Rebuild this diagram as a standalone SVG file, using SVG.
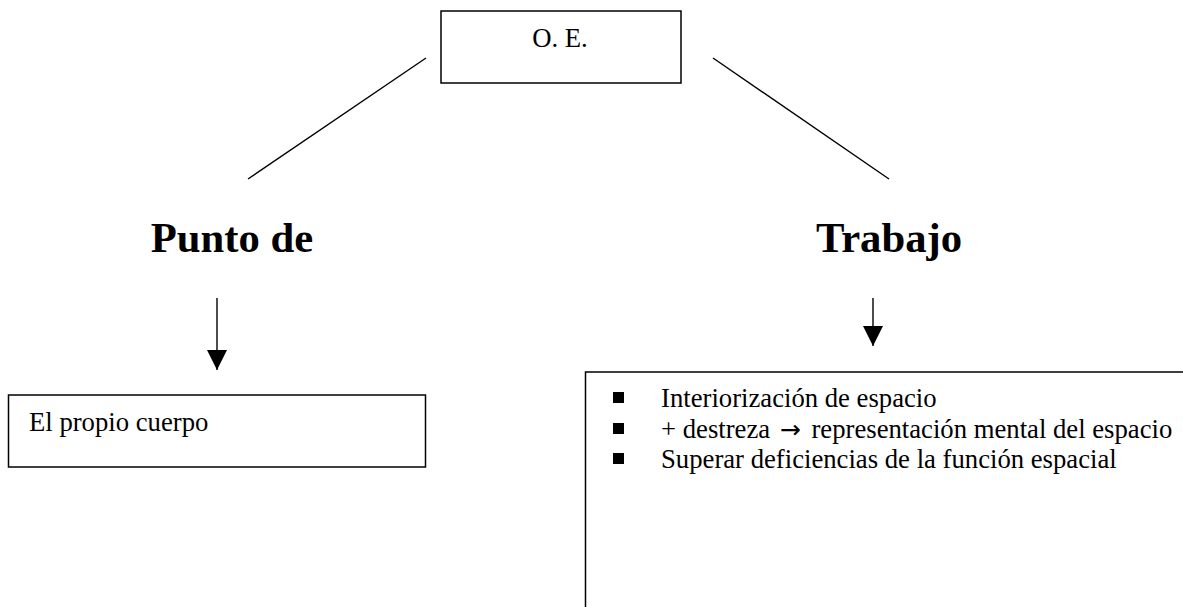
<svg xmlns="http://www.w3.org/2000/svg" width="1183" height="607" viewBox="0 0 1183 607">
<style>
.box{fill:#fff;stroke:#000;stroke-width:1.5}
.ln{stroke:#000;stroke-width:1.4;fill:none}
.t{font-family:"Liberation Serif","Times New Roman",serif;font-size:26.7px;fill:#000}
.h{font-family:"Liberation Serif","Times New Roman",serif;font-size:42.7px;font-weight:bold;fill:#000}
.arr{font-family:"DejaVu Sans",sans-serif;font-size:25px}
.blt{fill:#000}
</style>
<defs>
<marker id="ah" markerWidth="20" markerHeight="20" refX="20" refY="10" orient="auto" markerUnits="userSpaceOnUse" viewBox="0 0 20 20">
<path d="M0,0 L20,10 L0,20 Z" fill="#000"/>
</marker>
</defs>
<rect width="1183" height="607" fill="#fff"/>
<g id="connectors">
<line class="ln" x1="426" y1="58" x2="248" y2="179"/>
<line class="ln" x1="713" y1="58" x2="889" y2="179"/>
<line class="ln" x1="217" y1="298" x2="217" y2="370" marker-end="url(#ah)"/>
<line class="ln" x1="873" y1="298" x2="873" y2="346" marker-end="url(#ah)"/>
</g>
<g id="node-oe">
<rect class="box" x="441" y="11" width="240" height="72"/>
<text class="t" x="560" y="47" text-anchor="middle">O. E.</text>
</g>
<g id="node-punto">
<text class="h" x="232" y="252" text-anchor="middle">Punto de</text>
</g>
<g id="node-trabajo">
<text class="h" x="889" y="252" text-anchor="middle">Trabajo</text>
</g>
<g id="node-cuerpo">
<rect class="box" x="8.5" y="395" width="417" height="72"/>
<text class="t" x="29" y="431">El propio cuerpo</text>
</g>
<g id="node-lista">
<path class="ln" d="M1184,372 L585.5,372 L585.5,608" style="stroke-width:1.5"/>
<rect class="blt" x="613" y="392" width="11" height="11"/>
<rect class="blt" x="613" y="423" width="11" height="11"/>
<rect class="blt" x="613" y="453" width="11" height="11"/>
<text class="t" x="661" y="407">Interiorización de espacio</text>
<text class="t" x="661" y="438">+ destreza <tspan class="arr" dx="3">→</tspan><tspan dx="4"> representación mental del espacio</tspan></text>
<text class="t" x="661" y="468">Superar deficiencias de la función espacial</text>
</g>
</svg>
